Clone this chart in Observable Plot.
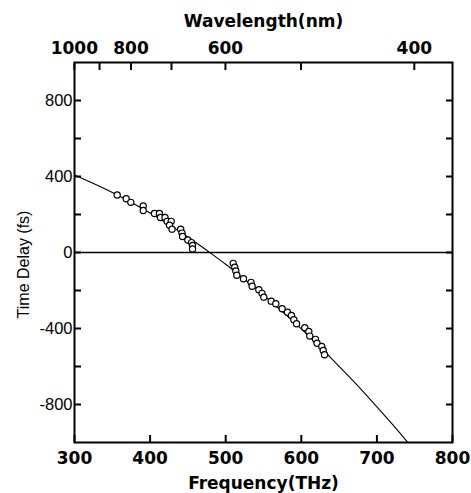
<!DOCTYPE html>
<html><head><meta charset="utf-8">
<script src="https://cdn.jsdelivr.net/npm/d3@7"></script>
<script src="https://cdn.jsdelivr.net/npm/@observablehq/plot@0.6"></script>
<style>body{margin:0;background:#fff}</style>
</head><body><div id="chart"></div>
<script>
const freqTicks = [300, 400, 500, 600, 700, 800];
const wavelengthTicks = [1000, 900, 800, 700, 600, 500, 400];
const wavelengthLabels = [1000, 800, 600, 400];
const delayTicks = [-800, -600, -400, -200, 0, 200, 400, 600, 800];
const delayLabels = [-800, -400, 0, 400, 800];

const measuredFreq = [356.5, 368.4, 374.5, 390.9, 390.9, 405.8, 412.4, 413.8, 419.7, 422.4, 427.9, 425.7, 429.0, 440.5, 442.2, 442.9, 449.9, 454.8, 456.1, 456.1, 509.9, 512.0, 513.4, 514.7, 523.5, 533.5, 535.0, 543.8, 548.0, 550.4, 560.2, 566.3, 574.7, 581.7, 587.0, 590.1, 593.7, 604.6, 609.9, 611.2, 618.8, 620.8, 627.1, 629.0, 630.7];
const measuredDelay = [303, 283, 264, 245, 221, 205, 205, 184, 184, 164, 164, 144, 123, 123, 102, 84, 66, 52, 37, 19, -57, -78, -97, -120, -138, -157, -178, -196, -215, -235, -256, -270, -296, -314, -331, -354, -375, -396, -416, -440, -457, -478, -495, -516, -538];

const fitFreq = [300, 320, 340, 360, 380, 400, 420, 440, 460, 480, 500, 520, 540, 560, 580, 600, 620, 640, 660, 680, 700, 720, 740, 760];
const fitDelay = [408, 373, 336, 296, 253, 208, 159, 108, 54, -3, -62, -125, -190, -258, -329, -402, -479, -558, -640, -724, -812, -902, -995, -1091];

const C_NM_THZ = 299792.458; // wavelength(nm) * frequency(THz)
const toFreq = (nm) => C_NM_THZ / nm;

const measured = measuredFreq.map((f, i) => ({f, d: measuredDelay[i]}));
const fit = fitFreq.map((f, i) => ({f, d: fitDelay[i]}));

const boldFont = "DejaVu Sans";
const regFont = "Liberation Sans, Arial, sans-serif";
const empty = () => "";
const plain = (d) => String(d);

const chart = Plot.plot({
  width: 471,
  height: 493,
  marginLeft: 74,
  marginRight: 19,
  marginTop: 62,
  marginBottom: 51,
  style: {background: "#fff", color: "#000"},
  x: {domain: [300, 800], axis: null},
  y: {domain: [-1000, 1000], axis: null},
  marks: [
    Plot.ruleY([0], {stroke: "#000", strokeWidth: 1.7}),
    Plot.line(fit, {x: "f", y: "d", stroke: "#000", strokeWidth: 1.1, curve: "natural", clip: true}),
    Plot.dot(measured, {x: "f", y: "d", r: 3.1, stroke: "#000", fill: "#fff", strokeWidth: 1.2}),
    // bottom axis
    Plot.axisX(freqTicks, {anchor: "bottom", label: null, tickSize: -7, strokeWidth: 2, tickFormat: empty}),
    Plot.axisX(freqTicks, {anchor: "bottom", label: null, tickSize: 0, tickPadding: 9, fontFamily: boldFont, fontWeight: "bold", fontSize: 17, tickFormat: plain}),
    // top axis (wavelength)
    Plot.axisX(wavelengthTicks.map(toFreq), {anchor: "top", label: null, tickSize: -7, strokeWidth: 2, tickFormat: empty}),
    Plot.axisX(wavelengthLabels.map(toFreq), {anchor: "top", label: null, tickSize: 0, tickPadding: 9, fontFamily: boldFont, fontWeight: "bold", fontSize: 17, tickFormat: (f) => String(Math.round(C_NM_THZ / f))}),
    // left / right axes
    Plot.axisY(delayTicks, {anchor: "left", label: null, tickSize: -7, strokeWidth: 2, tickFormat: empty}),
    Plot.axisY(delayTicks, {anchor: "right", label: null, tickSize: -7, strokeWidth: 2, tickFormat: empty}),
    Plot.axisY(delayLabels, {anchor: "left", label: null, tickSize: 0, tickPadding: 2, fontFamily: regFont, fontSize: 16.5, tickFormat: plain}),
    Plot.frame({stroke: "#000", strokeWidth: 2}),
    // titles
    Plot.text(["Wavelength(nm)"], {frameAnchor: "top", dy: -41, text: (d) => d, fontFamily: boldFont, fontWeight: "bold", fontSize: 17, lineAnchor: "middle", textAnchor: "middle"}),
    Plot.text(["Frequency(THz)"], {frameAnchor: "bottom", dy: 41.5, text: (d) => d, fontFamily: boldFont, fontWeight: "bold", fontSize: 17, lineAnchor: "middle", textAnchor: "middle"}),
    Plot.text(["Time Delay (fs)"], {frameAnchor: "left", dx: -51, dy: 12, rotate: -90, text: (d) => d, fill: "#000", fontFamily: regFont, fontSize: 16, lineAnchor: "middle", textAnchor: "middle"})
  ]
});
document.getElementById("chart").appendChild(chart);
</script>
</body></html>
